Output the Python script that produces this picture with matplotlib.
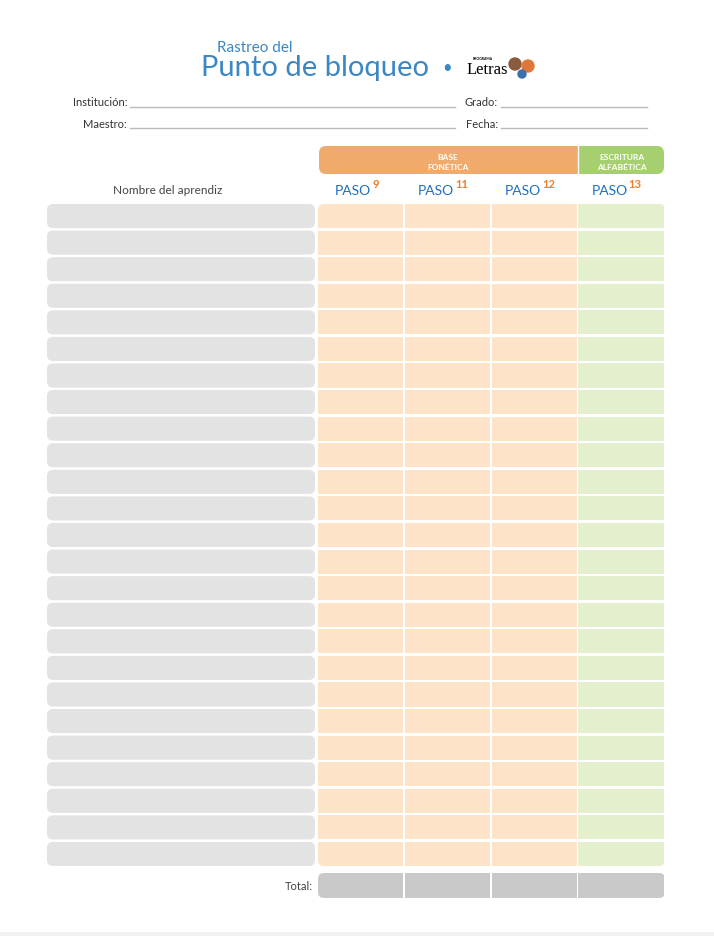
import matplotlib.pyplot as plt
from matplotlib.patches import FancyBboxPatch, Rectangle

plt.rcParams['font.family'] = ['Lato', 'DejaVu Sans']

# form data
form_left = ["Institución:", "Maestro:"]
form_right = ["Grado:", "Fecha:"]
groups = ["BASE\nFONÉTICA", "ESCRITURA\nALFABÉTICA"]
group_span = [3, 1]           # how many paso columns each group covers
paso_nums = ["9", "11", "12", "13"]
n_rows = 25

BLUE = '#3a87c4'
ORANGE = '#f0aa6c'
GREEN = '#a6d070'
ORANGE_CELL = '#fde3c8'
GREEN_CELL = '#e3efcd'
NAME_CELL = '#e3e3e3'
TOTAL_CELL = '#c9c9c9'

W, H = 714, 937
fig = plt.figure(figsize=(W / 100, H / 100), dpi=100)
ax = fig.add_axes([0, 0, 1, 1])
ax.set_xlim(0, W)
ax.set_ylim(H, 0)
ax.axis('off')

# title
ax.text(255, 48, "Rastreo del", color=BLUE, fontsize=11, ha='center', va='center')
ax.text(315, 68, "Punto de bloqueo", color=BLUE, fontsize=21, ha='center', va='center')
ax.text(447, 68, "•", color=BLUE, fontsize=12, ha='center', va='center')
ax.text(483, 59, "PROGRAMA", fontsize=2.5, fontweight='bold', ha='center', va='center')
ax.text(467, 70, "Letras", family='Liberation Serif', fontsize=12, ha='left', va='center')
ax.add_patch(plt.Circle((515, 65), 6, color='#8a5a3c'))
ax.add_patch(plt.Circle((528, 67), 6, color='#e0773a'))
ax.add_patch(plt.Circle((522, 75), 4, color='#3a6fb0'))

# form lines
for i, lab in enumerate(form_left):
    y = 103 + i * 21
    ax.text(127, y, lab, fontsize=8, color='#333333', ha='right', va='center')
    ax.plot([130, 455], [y + 5, y + 5], color='#bbbbbb', lw=1)
for i, lab in enumerate(form_right):
    y = 103 + i * 21
    ax.text(498, y, lab, fontsize=8, color='#333333', ha='right', va='center')
    ax.plot([501, 647], [y + 5, y + 5], color='#bbbbbb', lw=1)

# column layout
x0, col_w = 318, 86.75
n_cols = len(paso_nums)
x_end = x0 + n_cols * col_w
col_colors = []
for g, span in enumerate(group_span):
    col_colors += [ORANGE_CELL if g == 0 else GREEN_CELL] * span

# group header band
band = FancyBboxPatch((x0 + 1, 147), x_end - x0 - 2, 28,
                      boxstyle="round,pad=0,rounding_size=7", fc='none', ec='none')
ax.add_patch(band)
c = 0
for g, (lab, span) in enumerate(zip(groups, group_span)):
    gx = x0 + c * col_w
    r = Rectangle((gx, 147), span * col_w, 28, fc=ORANGE if g == 0 else GREEN, ec='none')
    ax.add_patch(r)
    r.set_clip_path(band)
    ax.text(gx + span * col_w / 2, 162, lab, color='white', fontsize=6,
            fontweight='bold', ha='center', va='center', linespacing=1.5)
    c += span
ax.plot([x0 + 3 * col_w] * 2, [147, 175], color='white', lw=1)

# paso headers
for i, num in enumerate(paso_nums):
    cx = x0 + (i + 0.5) * col_w
    split = cx + 14 - len(num) * 4
    ax.text(split, 191, "PASO", color='#1f6fb8', fontsize=10, ha='right', va='center')
    ax.text(split + 1, 185, num, color='#ee7d2c', fontsize=8, fontweight='bold',
            ha='left', va='center')

ax.text(168, 191, "Nombre del aprendiz", fontsize=8.5, color='#444444',
        ha='center', va='center')

# rows
top, pitch, gap = 205, 26.58, 2.5
bottom = top + n_rows * pitch - gap
table = FancyBboxPatch((x0, top), x_end - x0, bottom - top,
                       boxstyle="round,pad=0,rounding_size=6", fc='none', ec='none')
ax.add_patch(table)
for r_i in range(n_rows):
    y = top + r_i * pitch
    ax.add_patch(FancyBboxPatch((47, y), 268, pitch - gap,
                                boxstyle="round,pad=0,rounding_size=6",
                                fc=NAME_CELL, ec='none'))
    for j in range(n_cols):
        cell = Rectangle((x0 + j * col_w, y), col_w - 1.5, pitch - gap,
                         fc=col_colors[j], ec='none')
        ax.add_patch(cell)
        cell.set_clip_path(table)

# total row
ax.text(313, 887, "Total:", fontsize=8, color='#444444', ha='right', va='center')
tot = FancyBboxPatch((x0, 874), x_end - x0, 25,
                     boxstyle="round,pad=0,rounding_size=6", fc='none', ec='none')
ax.add_patch(tot)
for j in range(n_cols):
    cell = Rectangle((x0 + j * col_w, 874), col_w - 1.5, 25, fc=TOTAL_CELL, ec='none')
    ax.add_patch(cell)
    cell.set_clip_path(tot)

# bottom stripe
ax.add_patch(Rectangle((0, 933), W, 4, fc='#f2f2f2', ec='none'))

fig.savefig("out.png", dpi=100)
